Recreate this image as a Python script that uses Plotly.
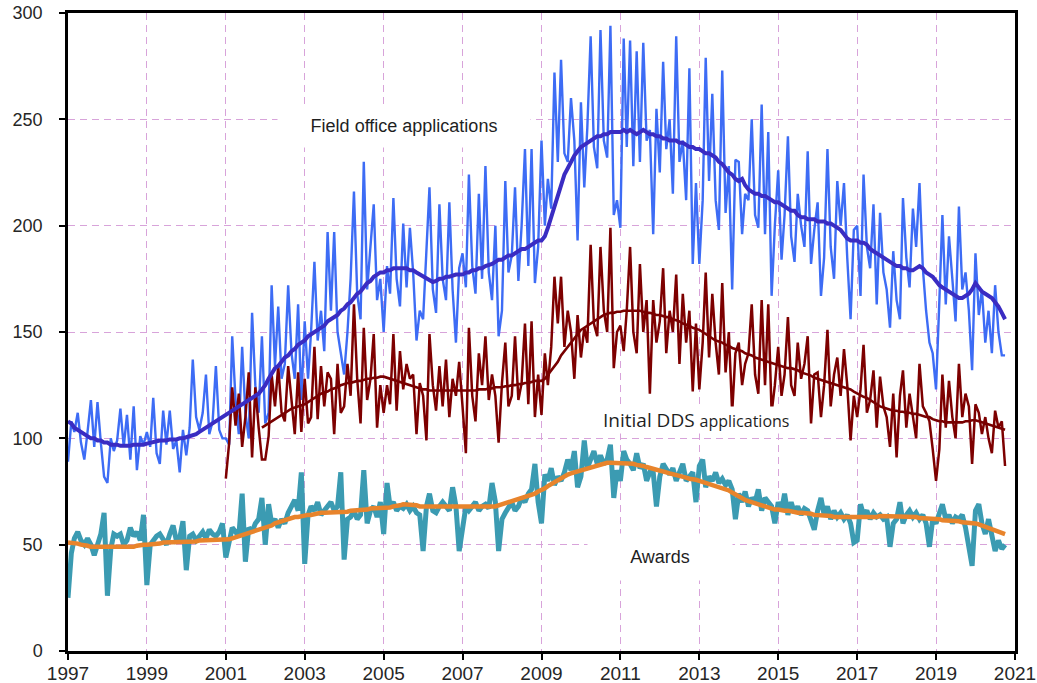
import pandas as pd
import plotly.graph_objects as go

# ---------------- data (monthly, Jan 1997 - Oct 2020) ----------------
start_month = "1997-01-01"
n_months = 286

field_office = [
    89, 108, 103, 112, 98, 90, 103, 118, 96, 117, 98, 82,          # 1997
    79, 100, 94, 99, 114, 96, 111, 90, 115, 85, 101, 97,           # 1998
    103, 96, 119, 93, 88, 113, 97, 113, 95, 99, 84, 104,           # 1999
    92, 105, 137, 110, 104, 112, 130, 102, 108, 134, 104, 100,     # 2000
    100, 97, 148, 118, 102, 143, 112, 100, 159, 125, 112, 148,     # 2001
    107, 112, 172, 134, 162, 128, 135, 172, 140, 128, 163, 118,    # 2002
    155, 128, 150, 183, 146, 160, 141, 197, 160, 197, 150, 140,    # 2003
    130, 150, 175, 216, 168, 156, 230, 170, 190, 210, 165, 175,    # 2004
    150, 181, 168, 213, 175, 162, 201, 171, 199, 178, 146, 160,    # 2005
    156, 190, 218, 170, 159, 210, 175, 165, 211, 170, 145, 180,    # 2006
    187, 171, 224, 181, 168, 215, 175, 228, 178, 165, 200, 148,    # 2007
    160, 221, 178, 186, 218, 174, 200, 236, 181, 236, 173, 190,    # 2008
    240, 200, 222, 208, 272, 230, 278, 234, 230, 260, 240, 193,    # 2009
    258, 218, 246, 289, 237, 227, 292, 240, 232, 294, 205, 212,    # 2010
    199, 288, 237, 287, 228, 282, 230, 286, 240, 245, 196, 255,    # 2011
    225, 277, 236, 250, 215, 289, 230, 240, 212, 274, 182, 220,    # 2012
    182, 212, 279, 221, 262, 212, 198, 273, 206, 228, 170, 231,    # 2013
    230, 196, 215, 212, 250, 205, 199, 257, 196, 244, 167, 200,    # 2014
    226, 184, 205, 242, 195, 183, 215, 200, 190, 235, 182, 198,    # 2015
    211, 167, 185, 236, 190, 175, 221, 200, 220, 185, 156, 198,    # 2016
    200, 167, 224, 190, 180, 210, 163, 206, 178, 170, 152, 188,    # 2017
    165, 156, 213, 185, 171, 208, 190, 220, 180, 160, 145, 140,    # 2018
    123, 165, 205, 163, 195, 175, 155, 209, 170, 178, 160, 132,    # 2019
    187, 158, 170, 145, 160, 140, 172, 150, 139, 139,              # 2020
]

field_office_avg = [
    108, 107, 105, 104, 103, 102, 101, 100, 100, 99, 99, 98,
    98, 97, 97, 97, 96.5, 96.5, 96.5, 96.5, 97, 97, 97, 97,
    97.5, 98, 98, 98.5, 99, 99, 99, 99.5, 99.5, 99.5, 100, 100,
    100.5, 101, 101.5, 102, 103, 104, 105, 106, 107, 108, 109, 110,
    111, 112, 113, 114, 115, 116, 117, 118, 119, 120, 121, 123,
    125, 128, 130, 133, 134, 136, 138, 139, 141, 142, 144, 145,
    146, 148, 149, 150, 151, 152, 153, 155, 156, 157, 158, 160,
    161, 163, 164, 166, 168, 169, 171, 173, 174, 176, 177, 178,
    178, 179, 179, 180, 180, 180, 180, 180, 179, 179, 178, 177,
    176, 175, 174, 173.5, 174, 175, 175, 176, 176, 176.5, 177, 177,
    177, 178, 178, 179, 179, 180, 180, 181, 181.5, 182, 183, 184,
    184, 185, 186, 186, 187, 188, 189, 189, 190, 191, 192, 193,
    193, 195, 199, 204, 210, 215, 220, 224, 227, 230, 233, 235,
    237, 238, 239, 240, 241, 242, 242, 243, 243, 244, 244, 244,
    244, 245, 244, 245, 244, 243, 244, 245, 244, 243, 243, 242,
    242, 241, 241, 240, 240, 240, 239, 239, 238, 237, 237, 236,
    236, 235, 234, 234, 233, 232, 230, 229, 227, 225, 224, 222,
    221, 222, 219, 217, 216, 215, 215, 214, 214, 213, 212, 211,
    211, 210, 209, 208, 207, 207, 205, 204, 204, 203, 203, 203,
    202, 202, 202, 201, 201, 200, 199, 198, 196, 194, 193, 193,
    193, 192, 192, 191, 189, 188, 187, 186, 185, 184, 183, 182,
    181, 181, 180, 180, 179, 179, 180, 181, 180, 178, 177, 176,
    174, 172, 171, 170, 169, 168, 167, 166, 166, 167, 168, 170,
    173, 171, 169, 168, 167, 166, 164, 162, 159, 156,
]

# Initial DDS applications start January 2001 (month index 48)
dds_start_index = 48
dds = [
    81, 98, 124, 106, 121, 96, 110, 131, 91, 124, 105, 90,         # 2001
    90, 101, 130, 115, 134, 112, 108, 134, 118, 102, 131, 103,     # 2002
    128, 107, 110, 143, 109, 134, 115, 131, 128, 102, 135, 112,    # 2003
    115, 135, 120, 163, 128, 107, 152, 118, 128, 149, 105, 125,    # 2004
    112, 125, 116, 149, 113, 141, 123, 135, 128, 130, 102, 126,    # 2005
    120, 99, 149, 125, 113, 134, 115, 137, 110, 128, 120, 136,     # 2006
    115, 93, 152, 120, 108, 140, 125, 148, 118, 130, 120, 98,      # 2007
    126, 145, 115, 120, 148, 118, 126, 154, 116, 155, 110, 130,    # 2008
    111, 140, 125, 143, 176, 154, 176, 143, 160, 150, 128, 158,    # 2009
    138, 152, 145, 191, 154, 148, 190, 160, 150, 199, 133, 150,    # 2010
    153, 141, 160, 190, 150, 140, 182, 150, 165, 121, 165, 145,    # 2011
    155, 180, 140, 160, 150, 177, 135, 168, 145, 160, 122, 154,    # 2012
    123, 145, 178, 138, 168, 145, 130, 173, 131, 150, 112, 140,    # 2013
    145, 125, 135, 140, 163, 130, 121, 165, 125, 163, 112, 125,    # 2014
    143, 120, 130, 157, 125, 120, 145, 128, 135, 148, 107, 130,    # 2015
    131, 110, 125, 151, 115, 130, 138, 120, 142, 125, 99, 120,     # 2016
    110, 123, 144, 112, 118, 132, 105, 129, 115, 110, 96, 121,     # 2017
    91, 120, 132, 105, 121, 110, 100, 135, 115, 112, 108, 95,      # 2018
    80, 95, 130, 105, 127, 110, 100, 135, 110, 121, 115, 88,       # 2019
    116, 112, 102, 110, 100, 93, 113, 105, 108, 87,                # 2020
]

# DDS 12-month average starts December 2001 (month index 59)
dds_avg_start_index = 59
dds_avg = [
    105,
    106, 107, 108, 109, 110, 111, 112, 113, 114, 114.5, 115, 115.5,
    116, 117, 118, 119, 120, 121, 121.5, 122, 123, 123.5, 124, 125,
    125.5, 126, 126, 126.5, 127, 127, 127.5, 128, 128, 128.5, 128.5, 129,
    129, 128.5, 128, 127.5, 127, 126.5, 126, 125.5, 125, 124.5, 124, 123.5,
    123, 123, 122.5, 122.5, 122.5, 122.5, 122.5, 122.5, 122.5, 122.5, 122.5, 122.5,
    122.5, 122.5, 122.5, 122.5, 122.5, 123, 123, 123, 123.5, 123.5, 124, 124,
    124, 124.5, 124.5, 125, 125, 125.5, 125.5, 126, 126, 126.5, 127, 127,
    127, 128, 130, 132, 134, 136, 139, 141, 143, 145, 147, 149,
    151, 152, 153, 154, 155, 156, 157, 158, 158.5, 159, 159, 159.5,
    159.5, 160, 160, 160, 160, 160, 160, 159.5, 159, 159, 158.5, 158,
    158, 157.5, 157, 157, 156, 155.5, 155, 154, 153.5, 153, 152, 151.5,
    151, 150, 149, 148, 147, 146, 145.5, 145, 144, 143.5, 142.5, 142,
    141.5, 141, 140, 139.5, 139, 138, 137.5, 137, 136.5, 136, 135.5, 135,
    134.5, 134, 133.5, 133, 133, 132.5, 132, 131, 130.5, 130, 129.5, 128.5,
    128, 127.5, 127, 126.5, 126, 125.5, 125, 124.5, 124, 123.5, 123, 122,
    121, 120, 119.5, 119, 118, 117, 116, 115, 114.5, 114, 113.5, 113,
    113, 112.5, 112.5, 112, 112, 111.5, 111.5, 111, 110.5, 110, 110, 109,
    108.5, 108, 108, 107.5, 107.5, 107.5, 107.5, 107.5, 107.5, 108, 108, 108.5,
    108.5, 108, 107.5, 107, 106.5, 106, 105.5, 105, 104.5, 104,
]

awards = [
    25, 46, 53, 56, 52, 50, 53, 50, 45, 50, 55, 65,     # 1997
    26, 48, 55, 54, 55, 50, 52, 58, 54, 56, 52, 64,     # 1998
    31, 50, 52, 54, 55, 52, 50, 55, 59, 52, 53, 61,     # 1999
    38, 54, 55, 52, 54, 56, 53, 57, 55, 54, 56, 60,     # 2000
    44, 52, 58, 56, 54, 74, 42, 58, 56, 60, 62, 72,     # 2001
    50, 69, 60, 62, 58, 62, 60, 65, 68, 71, 66, 84,     # 2002
    41, 64, 68, 66, 70, 64, 66, 68, 70, 66, 68, 84,     # 2003
    43, 62, 63, 66, 62, 64, 85, 60, 66, 68, 63, 70,     # 2004
    55, 79, 68, 70, 66, 68, 67, 69, 66, 68, 65, 64,     # 2005
    47, 68, 74, 66, 65, 68, 70, 68, 66, 77, 68, 47,     # 2006
    58, 68, 66, 68, 70, 66, 68, 69, 67, 79, 70, 47,     # 2007
    62, 65, 68, 70, 66, 68, 72, 70, 74, 76, 88, 70,     # 2008
    60, 83, 80, 86, 78, 82, 80, 84, 90, 85, 94, 77,     # 2009
    82, 99, 86, 90, 94, 88, 92, 88, 90, 97, 72, 85,     # 2010
    80, 94, 90, 88, 85, 93, 86, 88, 80, 84, 84, 68,     # 2011
    82, 88, 85, 83, 86, 80, 84, 88, 80, 82, 84, 70,     # 2012
    87, 90, 77, 82, 80, 84, 79, 81, 78, 80, 76, 62,     # 2013
    74, 70, 75, 68, 72, 70, 76, 66, 72, 70, 68, 60,     # 2014
    70, 66, 74, 64, 70, 65, 68, 64, 67, 66, 62, 57,     # 2015
    66, 72, 64, 68, 62, 66, 63, 65, 62, 64, 60, 51,     # 2016
    52, 69, 64, 66, 62, 65, 63, 64, 62, 63, 49, 60,     # 2017
    62, 70, 60, 64, 66, 63, 65, 62, 64, 60, 49, 62,     # 2018
    60, 64, 69, 62, 64, 60, 63, 62, 64, 58, 50, 40,     # 2019
    66, 69, 60, 55, 62, 54, 47, 52, 48, 50,             # 2020
]

awards_avg = [
    51, 51, 50.5, 50.5, 50, 50, 49.5, 49, 49, 48.5, 48.5, 48.5,
    48.5, 48.5, 48.5, 48.5, 48.5, 48.5, 48.5, 49, 49, 49.5, 50, 50,
    50, 50, 50.5, 50.5, 50.5, 51, 51, 51, 51, 51.5, 51.5, 51.5,
    51.5, 51.5, 51.5, 51.5, 52, 52, 52, 52, 52, 52, 52, 52,
    52, 52.5, 53, 53.5, 54, 54.5, 55, 55.5, 56, 56.5, 57, 57.5,
    58, 58.5, 59, 60, 60.5, 61, 61.5, 62, 62.5, 63, 63, 63.5,
    63.5, 64, 64, 64.5, 64.5, 65, 65, 65, 65.5, 65.5, 65.5, 65.5,
    65.5, 65.5, 66, 66, 66, 66, 66.5, 66.5, 67, 67, 67, 67,
    67, 67.5, 67.5, 68, 68, 68.5, 69, 69, 69, 68.5, 68.5, 68,
    68, 68, 67.5, 67.5, 67.5, 67.5, 67.5, 67.5, 67.5, 67.5, 67.5, 67.5,
    67.5, 67.5, 67.5, 67.5, 67.5, 67.5, 68, 68, 68, 68, 68, 68.5,
    69, 69.5, 70, 70.5, 71, 71.5, 72, 72.5, 73, 73.5, 74, 75,
    75.5, 76.5, 77.5, 78.5, 79.5, 80.5, 81.5, 82.5, 83, 83.5, 84, 84.5,
    85, 85.5, 86, 86.5, 87, 87.5, 88, 88, 88.5, 88.5, 88.5, 88.5,
    88.5, 88.5, 88.5, 88, 88, 87.5, 87.5, 87, 86.5, 86, 85.5, 85,
    85, 84.5, 84, 83.5, 83, 83, 82.5, 82, 81.5, 81, 81, 80.5,
    80, 79.5, 79, 78.5, 78, 77.5, 77, 76.5, 76, 75.5, 74.5, 73.5,
    72.5, 72, 71, 70.5, 70, 69.5, 69, 68.5, 68, 67.5, 67, 66.5,
    66.5, 66, 66, 66, 65.5, 65.5, 65, 65, 65, 64.5, 64.5, 64,
    64, 64, 63.5, 63.5, 63.5, 63, 63, 63, 62.5, 62.5, 62.5, 62.5,
    62.5, 62.5, 63, 63, 63, 63, 63, 63.5, 63.5, 63.5, 63.5, 63.5,
    63.5, 63.5, 63, 63, 63, 63, 63, 62.5, 62.5, 62.5, 62.5, 62,
    62, 62, 61.5, 61.5, 61.5, 61, 61, 61, 60.5, 60.5, 60.5, 60,
    60, 59.5, 59, 58.5, 58, 57.5, 57, 56, 55.5, 55,
]

year_ticks = ["1997", "1999", "2001", "2003", "2005", "2007", "2009",
              "2011", "2013", "2015", "2017", "2019", "2021"]
y_ticks = [0, 50, 100, 150, 200, 250, 300]

label_field = "Field office applications"
label_dds = "Initial DDS"
label_dds_small = "applications"
label_awards = "Awards"

# ---------------- figure ----------------
months = pd.date_range(start_month, periods=n_months, freq="MS")
dds_months = months[dds_start_index:dds_start_index + len(dds)]
dds_avg_months = months[dds_avg_start_index:dds_avg_start_index + len(dds_avg)]

fig = go.Figure()
fig.add_trace(go.Scatter(x=months, y=field_office, mode="lines",
                         line=dict(color="#3d6cf5", width=2.4), name="Field office"))
fig.add_trace(go.Scatter(x=dds_months, y=dds, mode="lines",
                         line=dict(color="#7d0000", width=2.5), name="DDS"))
fig.add_trace(go.Scatter(x=months, y=field_office_avg, mode="lines",
                         line=dict(color="#3a2cc2", width=4), name="Field office avg"))
fig.add_trace(go.Scatter(x=dds_avg_months, y=dds_avg, mode="lines",
                         line=dict(color="#780000", width=2.6), name="DDS avg"))
fig.add_trace(go.Scatter(x=months, y=awards, mode="lines",
                         line=dict(color="#3b9bb2", width=5), name="Awards"))
fig.add_trace(go.Scatter(x=months, y=awards_avg, mode="lines",
                         line=dict(color="#e8842c", width=4.5), name="Awards avg"))

fig.add_annotation(x="2005-07-05", y=247, xref="x", yref="y", text=label_field,
                   showarrow=False, font=dict(family="Liberation Sans, Arial", size=18, color="#1f1f1f"),
                   bgcolor="white", width=236, height=26, borderpad=8)
fig.add_annotation(x="2012-12-01", y=108.8, xref="x", yref="y",
                   text=f"{label_dds} <span style='font-size:16px'>{label_dds_small}</span>",
                   showarrow=False, font=dict(family="Open Sans, Liberation Sans", size=19, color="#1f1f1f"),
                   bgcolor="white", borderpad=0)
fig.add_annotation(x="2012-01-01", y=44, xref="x", yref="y", text=label_awards,
                   showarrow=False, font=dict(family="Liberation Sans, Arial", size=18, color="#1f1f1f"),
                   bgcolor="white", width=130, height=32, borderpad=7)

grid_color = "#d8a3da"
fig.update_xaxes(type="date", range=["1997-01-01", "2021-01-01"], automargin=False,
                 tickmode="array", tickvals=[f"{y}-01-01" for y in year_ticks], ticktext=year_ticks,
                 showgrid=True, gridcolor=grid_color, gridwidth=1, griddash="7px,5px",
                 showline=True, linecolor="black", linewidth=2.5, mirror=True,
                 ticks="outside", ticklen=6, tickwidth=2, tickcolor="black",
                 ticklabelstandoff=-3,
                 tickfont=dict(family="Liberation Sans, Arial", size=19, color="#262626"),
                 zeroline=False)
fig.update_yaxes(range=[0, 300], tickmode="array", tickvals=y_ticks, automargin=False,
                 showgrid=True, gridcolor=grid_color, gridwidth=1, griddash="7px,5px",
                 showline=True, linecolor="black", linewidth=2.5, mirror=True,
                 ticks="outside", ticklen=6, tickwidth=2, tickcolor="black",
                 ticklabelstandoff=13,
                 tickfont=dict(family="Liberation Sans, Arial", size=18, color="#262626"),
                 zeroline=False)

fig.update_layout(width=1037, height=683, showlegend=False,
                  margin=dict(l=68, r=22, t=13, b=32),
                  plot_bgcolor="white", paper_bgcolor="white")

fig.write_html("out.html", config={"displayModeBar": False},
               post_script="document.body.style.margin='0';document.body.style.overflow='hidden';")
